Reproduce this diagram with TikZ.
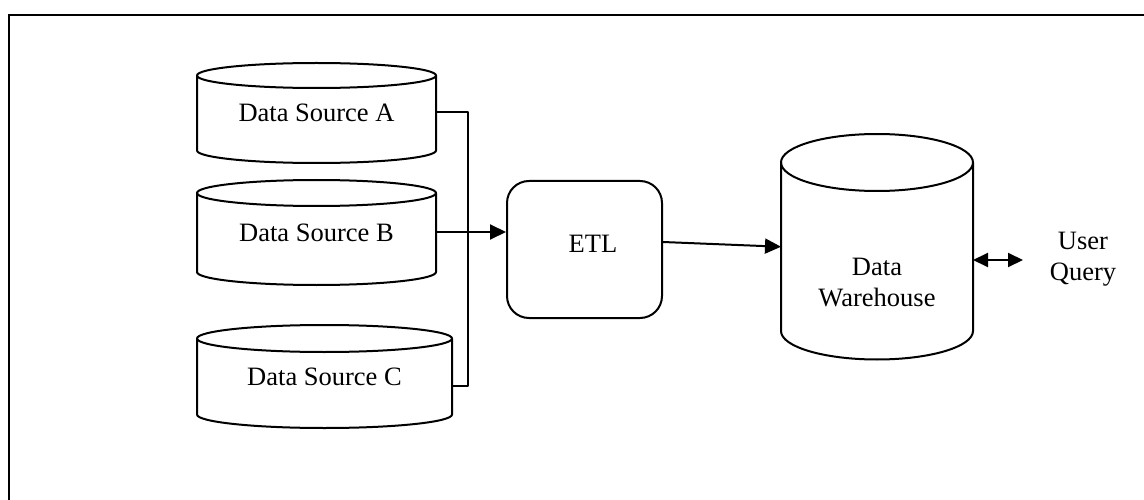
\documentclass[tikz,border=0pt]{standalone}
\usepackage{fontspec}
\setmainfont{Liberation Serif}
\usetikzlibrary{arrows.meta,calc}
\tikzset{
  ln/.style={line width=2pt, line join=round},
  body/.style={draw=none, inner sep=0pt, outer sep=0pt, anchor=center,
    font=\fontsize{26.5}{30}\selectfont},
  lbl/.style={inner sep=0pt, align=center, font=\fontsize{26.5}{31}\selectfont},
  arr/.style={ln, -{Triangle[length=16pt,width=15pt]}},
  darr/.style={ln, {Triangle[length=15pt,width=14pt]}-{Triangle[length=15pt,width=14pt]}},
  etlbox/.style={ln, draw, rounded corners=22pt, inner sep=0pt}
}
% cylinder: name, left, right, top-ellipse centre y, bottom-arc centre y, ry, text
\newcommand\dbcyl[7]{%
  \node[body, minimum width={(#3-#2)*1pt}, minimum height={(#5-#4)*1pt}]
    (#1) at ({(#2+#3)/2},{(#4+#5)/2}) {#7};
  \draw[ln] ({(#2+#3)/2},#4) ellipse [x radius={(#3-#2)/2}, y radius=#6];
  \draw[ln] (#2,#4) -- (#2,#5) arc [start angle=180, end angle=0,
    x radius={(#3-#2)/2}, y radius=#6] -- (#3,#4);
}
\begin{document}
\begin{tikzpicture}[x=1pt,y=-1pt]
\clip (0,0) rectangle (1144,500);
\fill[white] (0,0) rectangle (1144,500);
\draw[line width=2.6pt] (9,15) rectangle (1160,520);

\dbcyl{A}{197}{436}{75.5}{150.5}{12.5}{Data Source A}
\dbcyl{B}{197}{436}{193}{272}{13}{Data Source B}
\dbcyl{C}{197}{452}{338.5}{414.5}{13.5}{Data Source C}
\dbcyl{DW}{781}{973}{162.5}{331}{28.5}{}
\node[lbl] (dwt) at (877,283) {Data\\Warehouse};

\node[etlbox, minimum width=155pt, minimum height=137pt] (ETL) at (584.5,249.5) {};
\node[lbl] (etlt) at (593,244) {ETL};

\node[lbl] (UQ) at (1083,259) {User\\Query};
\coordinate (uq) at (1023,260);

\draw[ln] ([yshift=1pt]A.east) -- ++(32,0) |- ([yshift=-9.5pt]C.east);
\draw[arr] ([yshift=0.5pt]B.east) -- ([yshift=0.5pt]B.east -| ETL.west);
\draw[arr] ([yshift=7.5pt]ETL.east) -- (DW.west);
\draw[darr] ([yshift=-13.25pt]DW.east) -- (uq);
\end{tikzpicture}
\end{document}
